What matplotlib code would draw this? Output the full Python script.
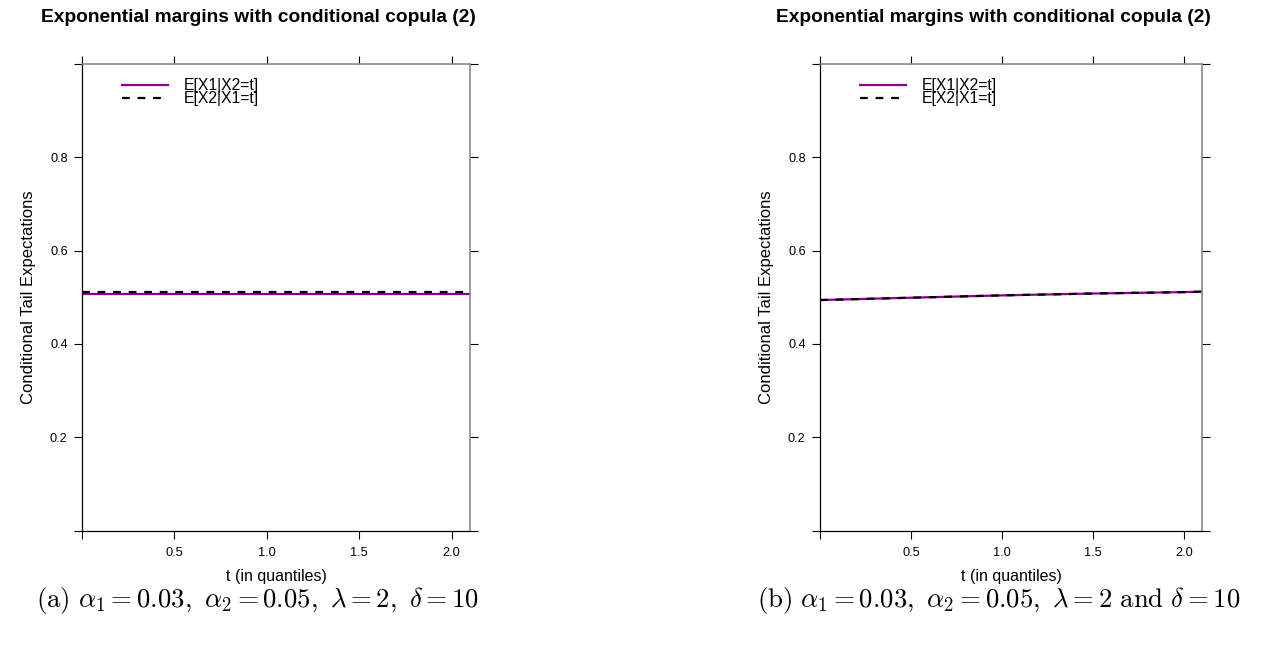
import matplotlib
matplotlib.use("Agg")
import matplotlib.pyplot as plt

plt.rcParams['font.family'] = ['Liberation Sans', 'DejaVu Sans']
plt.rcParams['mathtext.fontset'] = 'cm'

# ---- data ----
t_left = [0.0, 2.1]
left_x1_given_x2 = [0.507, 0.507]
left_x2_given_x1 = [0.511, 0.511]

t_right = [0.0, 0.5, 1.0, 1.5, 2.0, 2.1]
right_x1_given_x2 = [0.494, 0.499, 0.504, 0.508, 0.511, 0.512]
right_x2_given_x1 = [0.494, 0.499, 0.504, 0.508, 0.511, 0.512]

x_ticks = [0.0, 0.5, 1.0, 1.5, 2.0]
x_tick_labels = ['', '0.5', '1.0', '1.5', '2.0']
y_ticks = [0.0, 0.2, 0.4, 0.6, 0.8, 1.0]
y_tick_labels = ['', '0.2', '0.4', '0.6', '0.8', '']

title = 'Exponential margins with conditional copula (2)'
xlabel = 't (in quantiles)'
ylabel = 'Conditional Tail Expectations'
legend_labels = ['E[X1|X2=t]', 'E[X2|X1=t]']
captions = [r'$\mathrm{(a)}\ \alpha_1 = 0.03,\ \alpha_2 = 0.05,\ \lambda = 2,\ \delta = 10$',
            r'$\mathrm{(b)}\ \alpha_1 = 0.03,\ \alpha_2 = 0.05,\ \lambda = 2\ \mathrm{and}\ \delta = 10$']

PURPLE = '#8B008B'
W, H = 1270, 655
fig = plt.figure(figsize=(W / 100, H / 100), dpi=100)

panels = [
    dict(rect=(82, 64, 470, 530.5), leg_x=122, t=t_left, y1=left_x1_given_x2, y2=left_x2_given_x1),
    dict(rect=(820, 64, 1202, 530.5), leg_x=860, t=t_right, y1=right_x1_given_x2, y2=right_x2_given_x1),
]

for i, p in enumerate(panels):
    x0, ytop, x1, ybot = p['rect']
    ax = fig.add_axes([x0 / W, 1 - ybot / H, (x1 - x0) / W, (ybot - ytop) / H])
    ax.plot(p['t'], p['y1'], color=PURPLE, lw=1.6, label=legend_labels[0], zorder=2)
    ax.plot(p['t'], p['y2'], color='black', lw=1.6, ls=(0, (3.5, 3.5)),
            label=legend_labels[1], zorder=3)
    ax.set_xlim(0, 2.1)
    ax.set_ylim(0, 1)
    ax.set_xticks(x_ticks)
    ax.set_xticklabels(x_tick_labels)
    ax.set_yticks(y_ticks)
    ax.set_yticklabels(y_tick_labels)
    ax.tick_params(direction='out', length=5.8, width=0.8, color='black',
                   labelsize=9.2, top=True, right=True, pad=4.5)
    ax.tick_params(axis='x', pad=6)
    for side in ['left', 'bottom']:
        ax.spines[side].set_color('black')
        ax.spines[side].set_linewidth(0.9)
    for side in ['top', 'right']:
        ax.spines[side].set_color('#808080')
        ax.spines[side].set_linewidth(1.1)
    ax.set_xlabel(xlabel, fontsize=11.5, labelpad=7)
    ax.set_ylabel(ylabel, fontsize=12, labelpad=10)
    ax.legend(loc='upper left',
              bbox_to_anchor=((p['leg_x'] - x0) / (x1 - x0), 1 - 14 / (ybot - ytop)),
              frameon=False, fontsize=11.3, handlelength=2.9, handletextpad=1.05,
              labelspacing=-0.12, borderpad=0, borderaxespad=0)
    cx = (x0 + x1) / 2 - 18
    fig.text(cx / W, 1 - 18 / H, title, ha='center', va='center',
             fontsize=13.8, fontweight='bold')
    fig.text((cx + (6 if i == 1 else 0)) / W, 1 - 601 / H, captions[i], ha='center',
             va='center', fontsize=19.3)

fig.savefig('out.png', dpi=100)
